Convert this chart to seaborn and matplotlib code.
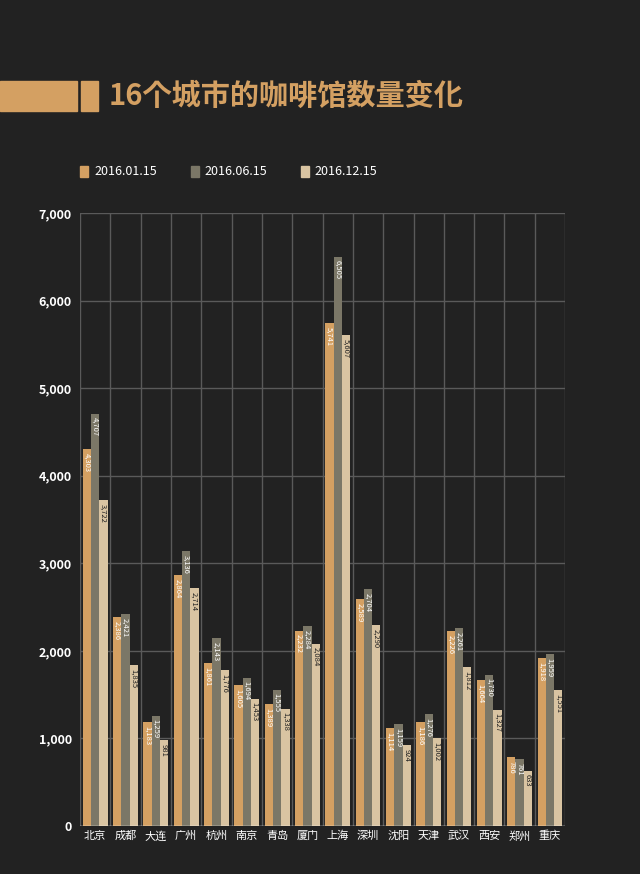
import matplotlib
matplotlib.use("Agg")
import matplotlib.pyplot as plt
import seaborn as sns
import pandas as pd
from matplotlib.patches import Rectangle

cities = ["北京","成都","大连","广州","杭州","南京","青岛","厦门","上海","深圳","沈阳","天津","武汉","西安","郑州","重庆"]
jan = [4303,2386,1183,2864,1861,1605,1389,2232,5741,2589,1114,1186,2226,1664,786,1918]
jun = [4707,2421,1259,3136,2143,1694,1555,2284,6505,2704,1159,1276,2261,1730,761,1959]
dec = [3722,1835,981,2714,1776,1453,1338,2084,5607,2290,924,1002,1812,1327,633,1551]
series = ["2016.01.15","2016.06.15","2016.12.15"]
colors = ["#D4A062","#7B7767","#D9C4A2"]

rows = []
for s, vals in zip(series, [jan, jun, dec]):
    for c, v in zip(cities, vals):
        rows.append({"city": c, "series": s, "value": v})
df = pd.DataFrame(rows)

CJK = ["Noto Sans CJK SC", "Noto Sans CJK JP", "Noto Sans CJK TC", "Noto Sans CJK KR", "DejaVu Sans"]
plt.rcParams["font.family"] = "sans-serif"
plt.rcParams["font.sans-serif"] = CJK
bg = "#222222"
fig = plt.figure(figsize=(6.4, 8.74), dpi=100, facecolor=bg)
ax = fig.add_axes([0.125, 0.055, 0.758, 0.701], facecolor=bg)
sns.barplot(data=df, x="city", y="value", hue="series", palette=colors,
            width=0.82, gap=0.0, saturation=1, ax=ax, legend=False, zorder=3)
ax.set_ylim(0, 7000)
ax.set_xlim(-0.5, 15.5)
ax.set_yticks(range(0, 7001, 1000))
ax.set_yticklabels([f"{v:,}" for v in range(0, 7001, 1000)], color="white", fontsize=9, fontweight="bold")
ax.set_xlabel(""); ax.set_ylabel("")
ax.tick_params(axis="x", colors="white", labelsize=8, length=0)
ax.tick_params(axis="y", length=0, pad=6)
ax.set_xticks(range(16))
ax.set_xticklabels(cities, color="white", fontsize=8, fontfamily=CJK)
ax.grid(False)
for y in range(1000, 7001, 1000):
    ax.axhline(y, color="#5a5a5a", lw=1, zorder=1)
for x in [i - 0.5 for i in range(17)]:
    ax.axvline(x, color="#5a5a5a", lw=1, zorder=1)
for sp in ax.spines.values():
    sp.set_visible(False)
ax.axhline(0, color="white", lw=1, zorder=4)

for cont, col in zip(ax.containers, colors):
    for bar in cont:
        h = bar.get_height()
        ax.text(bar.get_x() + bar.get_width()/2, h - 40, f"{int(h):,}", rotation=-90,
                ha="center", va="top", fontsize=5.5, zorder=5,
                color="#222222" if col == colors[2] else "white")

# title
fig.patches.append(Rectangle((0, 0.873), 0.12, 0.034, transform=fig.transFigure, color="#D4A062"))
fig.patches.append(Rectangle((0.127, 0.873), 0.026, 0.034, transform=fig.transFigure, color="#D4A062"))
fig.text(0.17, 0.89, "16个城市的咖啡馆数量变化", color="#D4A062", fontsize=21, fontweight="bold",
         va="center", fontfamily=CJK)

# legend
lx = [0.125, 0.298, 0.47]
for x, s, c in zip(lx, series, colors):
    fig.patches.append(Rectangle((x, 0.798), 0.013, 0.012, transform=fig.transFigure, color=c))
    fig.text(x + 0.022, 0.804, s, color="white", fontsize=9, va="center")

fig.savefig("out.png", dpi=100, facecolor=bg)
